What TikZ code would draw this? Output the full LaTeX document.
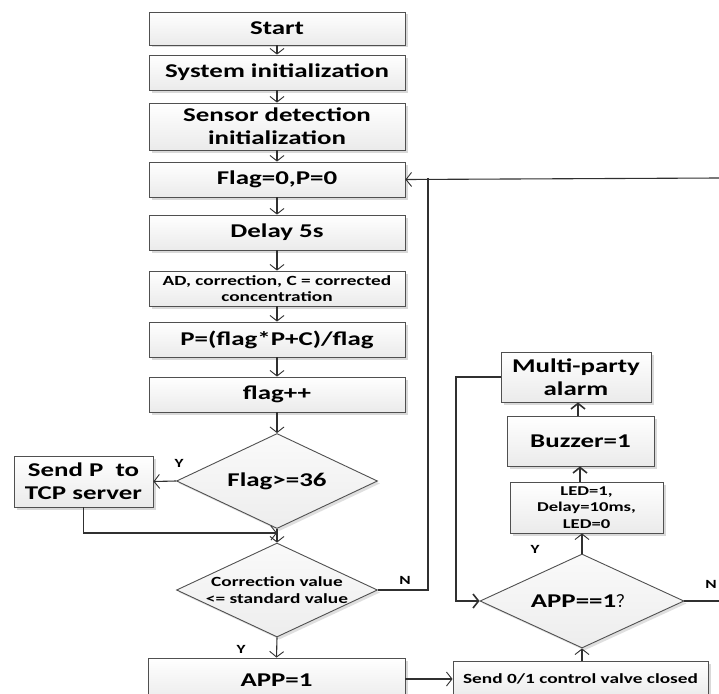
\documentclass[tikz,border=0pt]{standalone}
\usepackage{fontspec}
\setmainfont{Carlito}[FakeStretch=1.38]
\newfontfamily\cjk{Noto Sans CJK SC}
\usetikzlibrary{shapes.geometric,shadows,arrows.meta}
\definecolor{edgec}{HTML}{505050}
\definecolor{linec}{HTML}{303030}
\tikzset{
  box/.style={draw=edgec, line width=0.9pt, top color=white, bottom color=gray!16,
    drop shadow={shadow xshift=2.5pt, shadow yshift=-2.5pt, fill=gray!30, opacity=1},
    inner sep=0pt, align=center, font=\bfseries\fontsize{19.5}{23}\selectfont},
  dia/.style={diamond, draw=edgec, line width=0.9pt, top color=gray!4, bottom color=gray!14,
    drop shadow={shadow xshift=2.5pt, shadow yshift=-2.5pt, fill=gray!25, opacity=1},
    inner sep=0pt},
  dtext/.style={align=center, font=\bfseries\fontsize{19.5}{23}\selectfont, inner sep=0pt},
  dsmall/.style={align=center, font=\bfseries\fontsize{14}{17}\selectfont, inner sep=0pt},
  arr/.style={draw=linec, line width=1.1pt, -{Straight Barb[length=5.5pt,width=14pt,line width=0.9pt]}},
  thickarr/.style={draw=linec, line width=1.3pt, -{Straight Barb[length=5.5pt,width=14pt,line width=1.6pt]}},
  ln/.style={draw=linec, line width=1.1pt},
  yn/.style={font=\bfseries\fontsize{12.5}{14}\selectfont, inner sep=0pt}
}
\begin{document}
\begin{tikzpicture}[x=1pt,y=-1pt]
\clip (0,0) rectangle (719,693);
\fill[white] (0,0) rectangle (719,693);
% main column
\node[box, minimum width=256pt, minimum height=33pt] (start) at (277,28.5) {Start};
\node[box, minimum width=256pt, minimum height=35pt] (sys) at (277,72.5) {System initialization};
\node[box, minimum width=256pt, minimum height=47pt] (sensor) at (277,126.5) {Sensor detection\\initialization};
\node[box, minimum width=256pt, minimum height=35pt] (flag0) at (277,179.5) {Flag=0,P=0};
\node[box, minimum width=256pt, minimum height=35pt] (delay) at (277,232.5) {Delay 5s};
\node[box, minimum width=256pt, minimum height=35pt, font=\bfseries\fontsize{14}{15.5}\selectfont] (ad) at (277,288.5) {AD, correction, C = corrected\\concentration};
\node[box, minimum width=256pt, minimum height=35pt] (pcalc) at (277,339.5) {P=(flag*P+C)/flag};
\node[box, minimum width=256pt, minimum height=35pt] (flagpp) at (277,394.5) {flag++};
\node[dia, minimum width=201pt, minimum height=95pt, label={[dtext]center:Flag>=36}] (d1) at (277,481) {};
\node[box, minimum width=139pt, minimum height=51pt] (sendp) at (83.5,481.5) {Send P\ \ to\\TCP server};
\node[dia, minimum width=201pt, minimum height=94pt, label={[dsmall]center:Correction value\\<= standard value}] (d2) at (277,590) {};
\node[box, minimum width=257pt, minimum height=44pt] (app1) at (276.5,680) {APP=1};
% right column
\node[box, minimum width=255pt, minimum height=36pt, font=\bfseries\fontsize{14}{16}\selectfont] (send01) at (580.5,679) {Send 0/1 control valve closed};
\node[dia, minimum width=204pt, minimum height=94pt, label={[dtext]center:APP==1{\cjk\mdseries\fontsize{17}{20}\selectfont ？}}] (d3) at (582,601) {};
\node[box, minimum width=153pt, minimum height=51pt, font=\bfseries\fontsize{13.5}{16.5}\selectfont] (led) at (586.5,507.5) {LED=1,\\Delay=10ms,\\LED=0};
\node[box, minimum width=147pt, minimum height=50pt] (buzzer) at (580.5,441) {Buzzer=1};
\node[box, minimum width=150pt, minimum height=50pt] (multi) at (576,377) {Multi-party\\alarm};
% coordinates
\coordinate (jn) at (428,178);
\coordinate (rt1) at (719,178);
\coordinate (rt2) at (719,601);
\coordinate (mg) at (277,533);
\coordinate (lp1) at (456,377);
\coordinate (lp2) at (456,601);
% connectors main
\draw[arr] (start) -- (sys);
\draw[arr] (sys) -- (sensor);
\draw[arr] (sensor) -- (flag0);
\draw[arr] (flag0) -- (delay);
\draw[arr] (delay) -- (ad);
\draw[arr] (ad) -- (pcalc);
\draw[arr] (pcalc) -- (flagpp);
\draw[arr] (flagpp) -- (d1);
\draw[arr] (d1.west) -- (sendp.east);
\draw[arr] (d1.south) -- (d2.north);
\draw[arr] (sendp.south) |- (mg);
\draw[ln] (d2.east) -| (jn);
\draw[arr] (rt1) -- (flag0.east);
\draw[arr] (d2.south) -- (app1.north);
\draw[arr] (app1.east |- send01.west) -- (send01.west);
% right connectors
\draw[arr] (send01.north -| d3.south) -- (d3.south);
\draw[arr] (d3.north) -- (d3.north |- led.south);
\draw[thickarr] (led.north -| 580,0) -- (buzzer.south -| 580,0);
\draw[thickarr] (buzzer.north -| 578,0) -- (multi.south -| 578,0);
\draw[thickarr] (multi.west) -- (lp1) -- (lp2) -- (d3.west);
\draw[ln] (d3.east) -- (rt2);
% labels
\node[yn] (y1) at (179,463) {Y};
\node[yn] (n1) at (405,580) {N};
\node[yn] (y2) at (241,649) {Y};
\node[yn] (y3) at (535,549) {Y};
\node[yn] (n2) at (711,584) {N};
\end{tikzpicture}
\end{document}
